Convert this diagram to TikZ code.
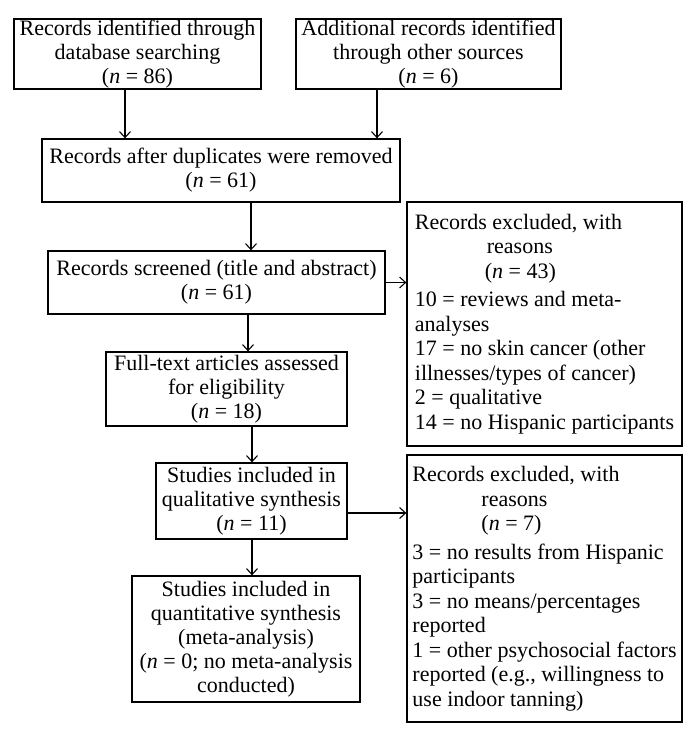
\documentclass[tikz,border=0pt]{standalone}
\usepackage{fontspec}
\setmainfont{Liberation Serif}
\usetikzlibrary{arrows.meta}
\begin{document}
\begin{tikzpicture}[x=1pt,y=-1pt,
  box/.style={draw, line width=1.3pt, inner sep=0pt, font=\fontsize{22}{24}\selectfont, align=center},
  lbox/.style={box, align=left, font=\fontsize{22}{24.5}\selectfont},
  arr/.style={-{Straight Barb[length=6pt,width=11pt]}, line width=1.1pt}]
\useasboundingbox (0,0) rectangle (687,736);
\node[box, minimum width=247pt, minimum height=70pt] (b1) at (137.5,54) {Records identified through\\database searching\\(\textit{n} = 86)};
\node[box, minimum width=265pt, minimum height=70pt] (b2) at (428.5,54) {Additional records identified\\through other sources\\(\textit{n} = 6)};
\node[box, minimum width=358pt, minimum height=63pt] (b3) at (221,170.5) {Records after duplicates were removed\\(\textit{n} = 61)};
\node[box, minimum width=337pt, minimum height=63pt] (b4) at (216.5,282.5) {Records screened (title and abstract)\\(\textit{n} = 61)};
\node[lbox, minimum width=275pt, minimum height=244pt] (b5) at (544.5,324) {Records excluded, with\\\hspace*{72pt}reasons\\\hspace*{70pt}(\textit{n} = 43)\\[4pt]10 = reviews and meta-\\analyses\\17 = no skin cancer (other\\illnesses/types of cancer)\\2 = qualitative\\14 = no Hispanic participants};
\node[box, minimum width=241pt, minimum height=74pt] (b6) at (226.5,389) {Full-text articles assessed\\for eligibility\\(\textit{n} = 18)};
\node[box, minimum width=191pt, minimum height=76pt] (b7) at (251.5,501) {Studies included in\\qualitative synthesis\\(\textit{n} = 11)};
\node[lbox, minimum width=275pt, minimum height=267pt] (b8) at (544.5,588.5) {Records excluded, with\\\hspace*{69pt}reasons\\\hspace*{69pt}(\textit{n} = 7)\\[4pt]3 = no results from Hispanic\\participants\\3 = no means/percentages\\reported\\1 = other psychosocial factors\\reported (e.g., willingness to\\use indoor tanning)};
\node[box, minimum width=228pt, minimum height=126pt] (b9) at (246,639) {Studies included in\\quantitative synthesis\\(meta-analysis)\\(\textit{n} = 0; no meta-analysis\\conducted)};
\draw[arr] ([xshift=-12.5pt]b1.south) -- ([xshift=-96pt]b3.north);
\draw[arr] ([xshift=-51.5pt]b2.south) -- ([xshift=156pt]b3.north);
\draw[arr] ([xshift=30pt]b3.south) -- ([xshift=34.5pt]b4.north);
\draw[arr] ([xshift=31.5pt]b4.south) -- ([xshift=21.5pt]b6.north);
\draw[arr] ([xshift=25.5pt]b6.south) -- ([xshift=0.5pt]b7.north);
\draw[arr] ([xshift=0.5pt]b7.south) -- ([xshift=6pt]b9.north);
\draw[arr] (b4.east) -- (b4.east -| b5.west);
\draw[arr] ([yshift=-12pt]b7.east) -- ([yshift=-12pt]b7.east -| b8.west);
\end{tikzpicture}
\end{document}
